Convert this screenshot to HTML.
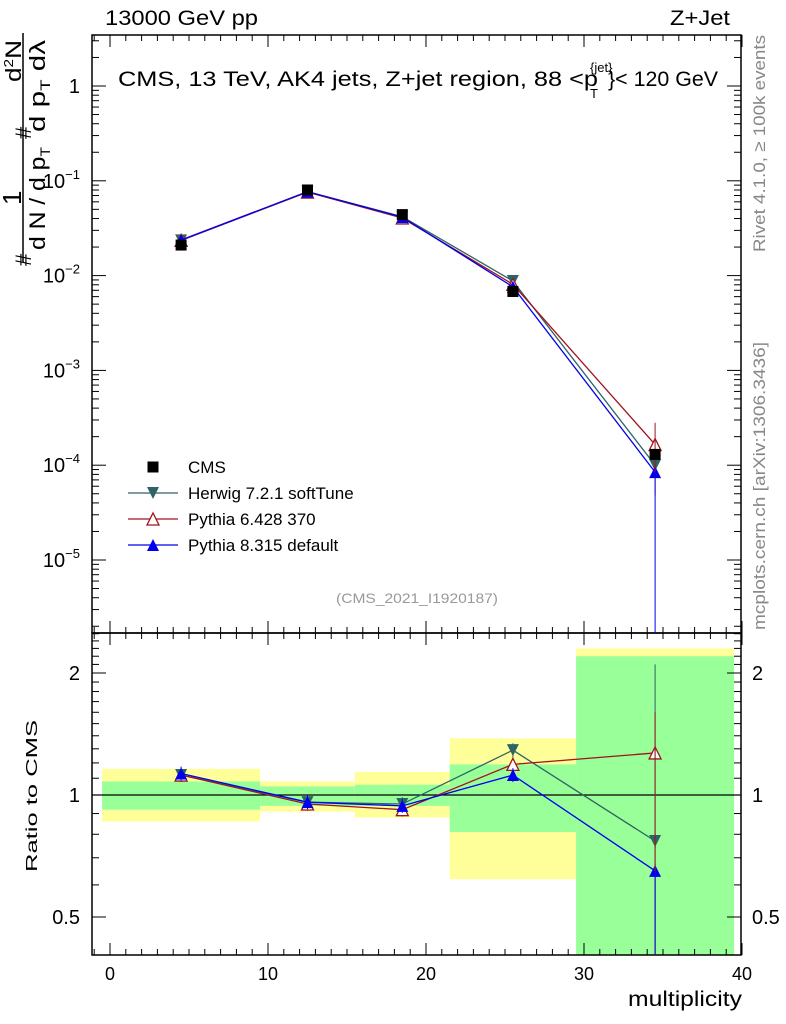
<!DOCTYPE html>
<html><head><meta charset="utf-8"><style>
body{margin:0;background:#fff}
svg{display:block;font-family:"Liberation Sans",sans-serif}
</style></head><body>
<svg id="c" width="786" height="1024" viewBox="0 0 786 1024" xmlns="http://www.w3.org/2000/svg">
<text x="105" y="25" font-size="21" textLength="153" lengthAdjust="spacingAndGlyphs">13000 GeV pp</text>
<text x="670" y="25" font-size="21" textLength="60" lengthAdjust="spacingAndGlyphs">Z+Jet</text>
<g>
<text x="118" y="86" font-size="21" textLength="480" lengthAdjust="spacingAndGlyphs">CMS, 13 TeV, AK4 jets, Z+jet region, 88 &lt;p</text>
<text x="590" y="72" font-size="13">{jet}</text>
<text x="590" y="98" font-size="13">T</text>
<text x="608" y="86" font-size="21" textLength="110" lengthAdjust="spacingAndGlyphs">}&lt; 120 GeV</text>
</g>
<g font-size="22">
<line x1="23" y1="33" x2="23" y2="262" stroke="#000" stroke-width="1.5"/>
<text transform="translate(31,266) rotate(-90)">#</text>
<text transform="translate(21,205) rotate(-90)" font-size="26">1</text>
<text transform="translate(45,250) rotate(-90)" textLength="103" lengthAdjust="spacingAndGlyphs">d N / d p<tspan font-size="14" dy="5">T</tspan></text>
<text transform="translate(31,139) rotate(-90)">#</text>
<text transform="translate(21,82) rotate(-90)" textLength="42" lengthAdjust="spacingAndGlyphs">d<tspan font-size="13" dy="-8">2</tspan><tspan dy="8">N</tspan></text>
<text transform="translate(45,132) rotate(-90)" textLength="92" lengthAdjust="spacingAndGlyphs">d p<tspan font-size="14" dy="5">T</tspan><tspan dy="-5">  d</tspan>λ</text>
</g>
<text transform="translate(765,252) rotate(-90)" font-size="17" fill="#888" textLength="217" lengthAdjust="spacingAndGlyphs">Rivet 4.1.0, ≥ 100k events</text>
<text transform="translate(765,630) rotate(-90)" font-size="17" fill="#888" textLength="288" lengthAdjust="spacingAndGlyphs">mcplots.cern.ch [arXiv:1306.3436]</text>
<text x="336" y="603" font-size="14" fill="#999" textLength="162" lengthAdjust="spacingAndGlyphs">(CMS_2021_I1920187)</text>
<text transform="translate(37,872) rotate(-90)" font-size="16" textLength="152" lengthAdjust="spacingAndGlyphs">Ratio to CMS</text>
<text x="628" y="1006" font-size="21" textLength="114" lengthAdjust="spacingAndGlyphs">multiplicity</text>
<g id="g"></g>
</svg>
<script>
const xs=[4.5,12.5,18.5,25.5,34.5];
const binLo=[-0.5,9.5,15.5,21.5,29.5];
const binHi=[9.5,15.5,21.5,29.5,39.5];
const cms=[0.021,0.08,0.044,0.0068,0.00013];
const herwigR=[1.12,0.96,0.95,1.29,0.77];
const py6R=[1.12,0.95,0.92,1.19,1.27];
const py8R=[1.13,0.96,0.94,1.12,0.65];
const yelLo=[0.86,0.91,0.88,0.62,0.3];
const yelHi=[1.16,1.08,1.14,1.38,2.3];
const grnLo=[0.92,0.94,0.94,0.81,0.3];
const grnHi=[1.08,1.05,1.06,1.19,2.2];
const xTicks=[0,10,20,30,40];
const yTicksMain=[0,-1,-2,-3,-4,-5];
const rTicks=[0.5,1,2];

const L=92,R=741,T=35,M=633,B=955;
const X=v=>110+15.8*v;
const Y=v=>86-94.8*Math.log10(v);
const YR=r=>795-122*Math.log2(r);
const NS="http://www.w3.org/2000/svg";
const g=document.getElementById('g');
function el(t,a,p){const e=document.createElementNS(NS,t);for(const k in a)e.setAttribute(k,a[k]);(p||g).appendChild(e);return e;}

binLo.forEach((lo,i)=>{
 const a=el('rect',{x:X(lo),y:Math.max(M,YR(yelHi[i])),width:X(binHi[i])-X(lo),height:Math.min(B,YR(yelLo[i]))-Math.max(M,YR(yelHi[i])),fill:'#ffff99'});
 
 
 const b=el('rect',{x:X(lo),y:Math.max(M,YR(grnHi[i])),width:X(binHi[i])-X(lo),height:Math.min(B,YR(grnLo[i]))-Math.max(M,YR(grnHi[i])),fill:'#99ff99'});
 
 
});
el('line',{x1:L,x2:R,y1:YR(1),y2:YR(1),stroke:'#000','stroke-width':1.2});

[[T,M],[M,B]].forEach(([t,b])=>{const f=el('rect',{x:L,y:t,width:R-L,height:b-t,fill:'none',stroke:'#000','stroke-width':1.5});

});

for(let v=-1;v<=40;v++){const big=v%10===0,h=big?12:6;
 [[M,T],[B,M]].forEach(([b,t])=>{el('line',{x1:X(v),x2:X(v),y1:b,y2:b-h,stroke:'#000'});el('line',{x1:X(v),x2:X(v),y1:t,y2:t+h,stroke:'#000'});});}
xTicks.forEach(v=>{const t=el('text',{x:X(v),y:980,'font-size':18,'text-anchor':'middle'});t.textContent=v;

});
for(let d=-6;d<=1;d++)for(let k=1;k<10;k++){const v=k*Math.pow(10,d),y=Y(v);if(y<T||y>M)continue;const h=k===1?14:7;
 el('line',{x1:L,x2:L+h,y1:y,y2:y,stroke:'#000'});el('line',{x1:R,x2:R-h,y1:y,y2:y,stroke:'#000'});}
yTicksMain.forEach(d=>{const t=el('text',{x:80,y:Y(Math.pow(10,d))+7,'font-size':20,'text-anchor':'end'});
 if(d===0)t.textContent='1';else{t.textContent='10';const s=el('tspan',{dy:-9,'font-size':13},t);s.textContent=String(d).replace('-','−');}
 
 });
for(let k=4;k<=25;k++){const v=k/10,y=YR(v);if(y<M||y>B)continue;const h=(v===0.5||v===1||v===2)?14:7;
 el('line',{x1:L,x2:L+h,y1:y,y2:y,stroke:'#000'});el('line',{x1:R,x2:R-h,y1:y,y2:y,stroke:'#000'});}
rTicks.forEach(v=>{[80,752].forEach((x,j)=>{const t=el('text',{x:x,y:YR(v)+7,'font-size':20,'text-anchor':j?'start':'end'});t.textContent=v;

});});

function marker(type,x,y,c,p){
 const s=6;
 if(type==='sq')return el('rect',{x:x-5.5,y:y-5.5,width:11,height:11,fill:'#000'},p);
 if(type==='down')return el('polygon',{points:`${x-s},${y-s} ${x+s},${y-s} ${x},${y+s}`,fill:c},p);
 if(type==='upo')return el('polygon',{points:`${x-s},${y+s} ${x+s},${y+s} ${x},${y-s}`,fill:'#fff',stroke:c,'stroke-width':1.3},p);
 return el('polygon',{points:`${x-s},${y+s} ${x+s},${y+s} ${x},${y-s}`,fill:c},p);
}
const series=[['herwig',herwigR,'#2e6464','down'],['pythia6',py6R,'#a0141e','upo'],['pythia8',py8R,'#0000ee','up']];
series.forEach(([n,r,c,m])=>{
 const gm=el('g',{});
 el('polyline',{points:xs.map((x,i)=>X(x)+','+Y(cms[i]*r[i])).join(' '),fill:'none',stroke:c,'stroke-width':1.3},gm);
 el('polyline',{points:xs.map((x,i)=>X(x)+','+YR(r[i])).join(' '),fill:'none',stroke:c,'stroke-width':1.3},gm);
 xs.forEach((x,i)=>{
  el('line',{x1:X(x),x2:X(x),y1:YR(r[i]*1.04),y2:YR(r[i]/1.04),stroke:c},gm);
  const p=marker(m,X(x),Y(cms[i]*r[i]),c,gm);
  const q=marker(m,X(x),YR(r[i]),c,gm);
 });
});
el('line',{x1:X(34.5),x2:X(34.5),y1:Y(2.8e-4),y2:Y(4.8e-5),stroke:'#a0141e'});
el('line',{x1:X(34.5),x2:X(34.5),y1:Y(8.5e-5),y2:M,stroke:'#0000ee'});
el('line',{x1:X(34.5),x2:X(34.5),y1:YR(2.1),y2:B,stroke:'#2e6464'});
el('line',{x1:X(34.5),x2:X(34.5),y1:YR(1.6),y2:B,stroke:'#a0141e'});
el('line',{x1:X(34.5),x2:X(34.5),y1:YR(0.65),y2:B,stroke:'#0000ee'});
xs.forEach((x,i)=>{const p=marker('sq',X(x),Y(cms[i]));});

const leg=[['CMS','sq','#000'],['Herwig 7.2.1 softTune','down','#2e6464'],['Pythia 6.428 370','upo','#a0141e'],['Pythia 8.315 default','up','#0000ee']];
leg.forEach(([t,m,c],i)=>{const y=467+26*i;
 const lg=el('g',{});
 if(i>0)el('line',{x1:128,x2:178,y1:y,y2:y,stroke:c,'stroke-width':1.3},lg);
 marker(m,153,y,c,lg);
 const tx=el('text',{x:188,y:y+6,'font-size':17},lg);tx.textContent=t;});
</script>
</body></html>
